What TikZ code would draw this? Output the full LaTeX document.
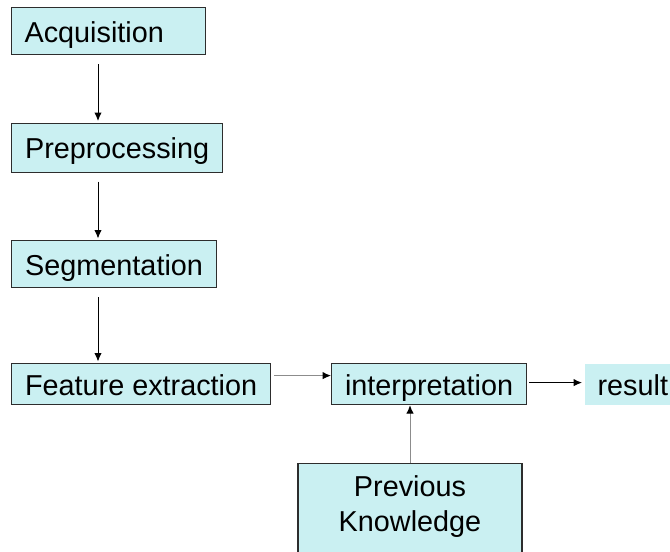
\documentclass[tikz,border=0pt]{standalone}
\usepackage{fontspec}
\setmainfont{Liberation Sans}
\usetikzlibrary{positioning,arrows.meta}
\definecolor{boxfill}{RGB}{202,240,242}
\definecolor{boxline}{RGB}{45,45,45}
\definecolor{flowgray}{RGB}{140,140,140}
\tikzset{
  stage/.style={draw=boxline,line width=1.2pt,fill=boxfill,anchor=north west,
    inner xsep=13pt,inner ysep=0pt,align=center,font=\fontsize{28.8}{35}\selectfont},
  oneline/.style={text height=22pt,text depth=0pt},
  flow/.style={-{Latex[length=8.5pt,width=7.5pt,color=black]},line width=1pt},
}
\begin{document}
\begin{tikzpicture}[x=1pt,y=-1pt]
\useasboundingbox (0,0) rectangle (670,552);
\clip (0,0) rectangle (670,552);
\pgfmathsetmacro{\ax}{98}
%
\node[stage,oneline,align=left,text width=168pt,minimum height=47pt] (acq) at (11,7) {Acquisition};
\node[stage,oneline,minimum width=211pt,minimum height=49pt] (pre) at (11,122.5) {Preprocessing};
\node[stage,oneline,minimum width=205pt,minimum height=47pt] (seg) at (11,240) {Segmentation};
\node[stage,oneline,minimum width=259pt,minimum height=41pt] (feat) at (11,363) {Feature extraction};
\node[stage,oneline,minimum width=195pt,minimum height=41pt] (interp) at (331,363) {interpretation};
\node[stage,oneline,draw=none,align=left,text width=100pt,minimum height=41pt] (res) at (584,363) {result};
\node[stage,anchor=north,inner ysep=12pt,text width=198pt] (know) at (410,463) {Previous\\Knowledge\rule[-30pt]{0pt}{30pt}};
%
\draw[flow,shorten <=9pt,shorten >=1.5pt] (acq.south -| \ax,0) -- (pre.north -| \ax,0);
\draw[flow,shorten <=9pt,shorten >=1.5pt] (pre.south -| \ax,0) -- (seg.north -| \ax,0);
\draw[flow,shorten <=9pt,shorten >=1.5pt] (seg.south -| \ax,0) -- (feat.north -| \ax,0);
\draw[flow,flowgray,shorten <=3pt] ([yshift=8.5pt]feat.east) -- ([yshift=8.5pt]interp.west);
\draw[flow,shorten <=2pt,shorten >=2pt] ([yshift=1.5pt]interp.east) -- ([yshift=1.5pt]res.west);
\draw[flow,flowgray] (know.north) -- (know.north |- interp.south);
\end{tikzpicture}
\end{document}
